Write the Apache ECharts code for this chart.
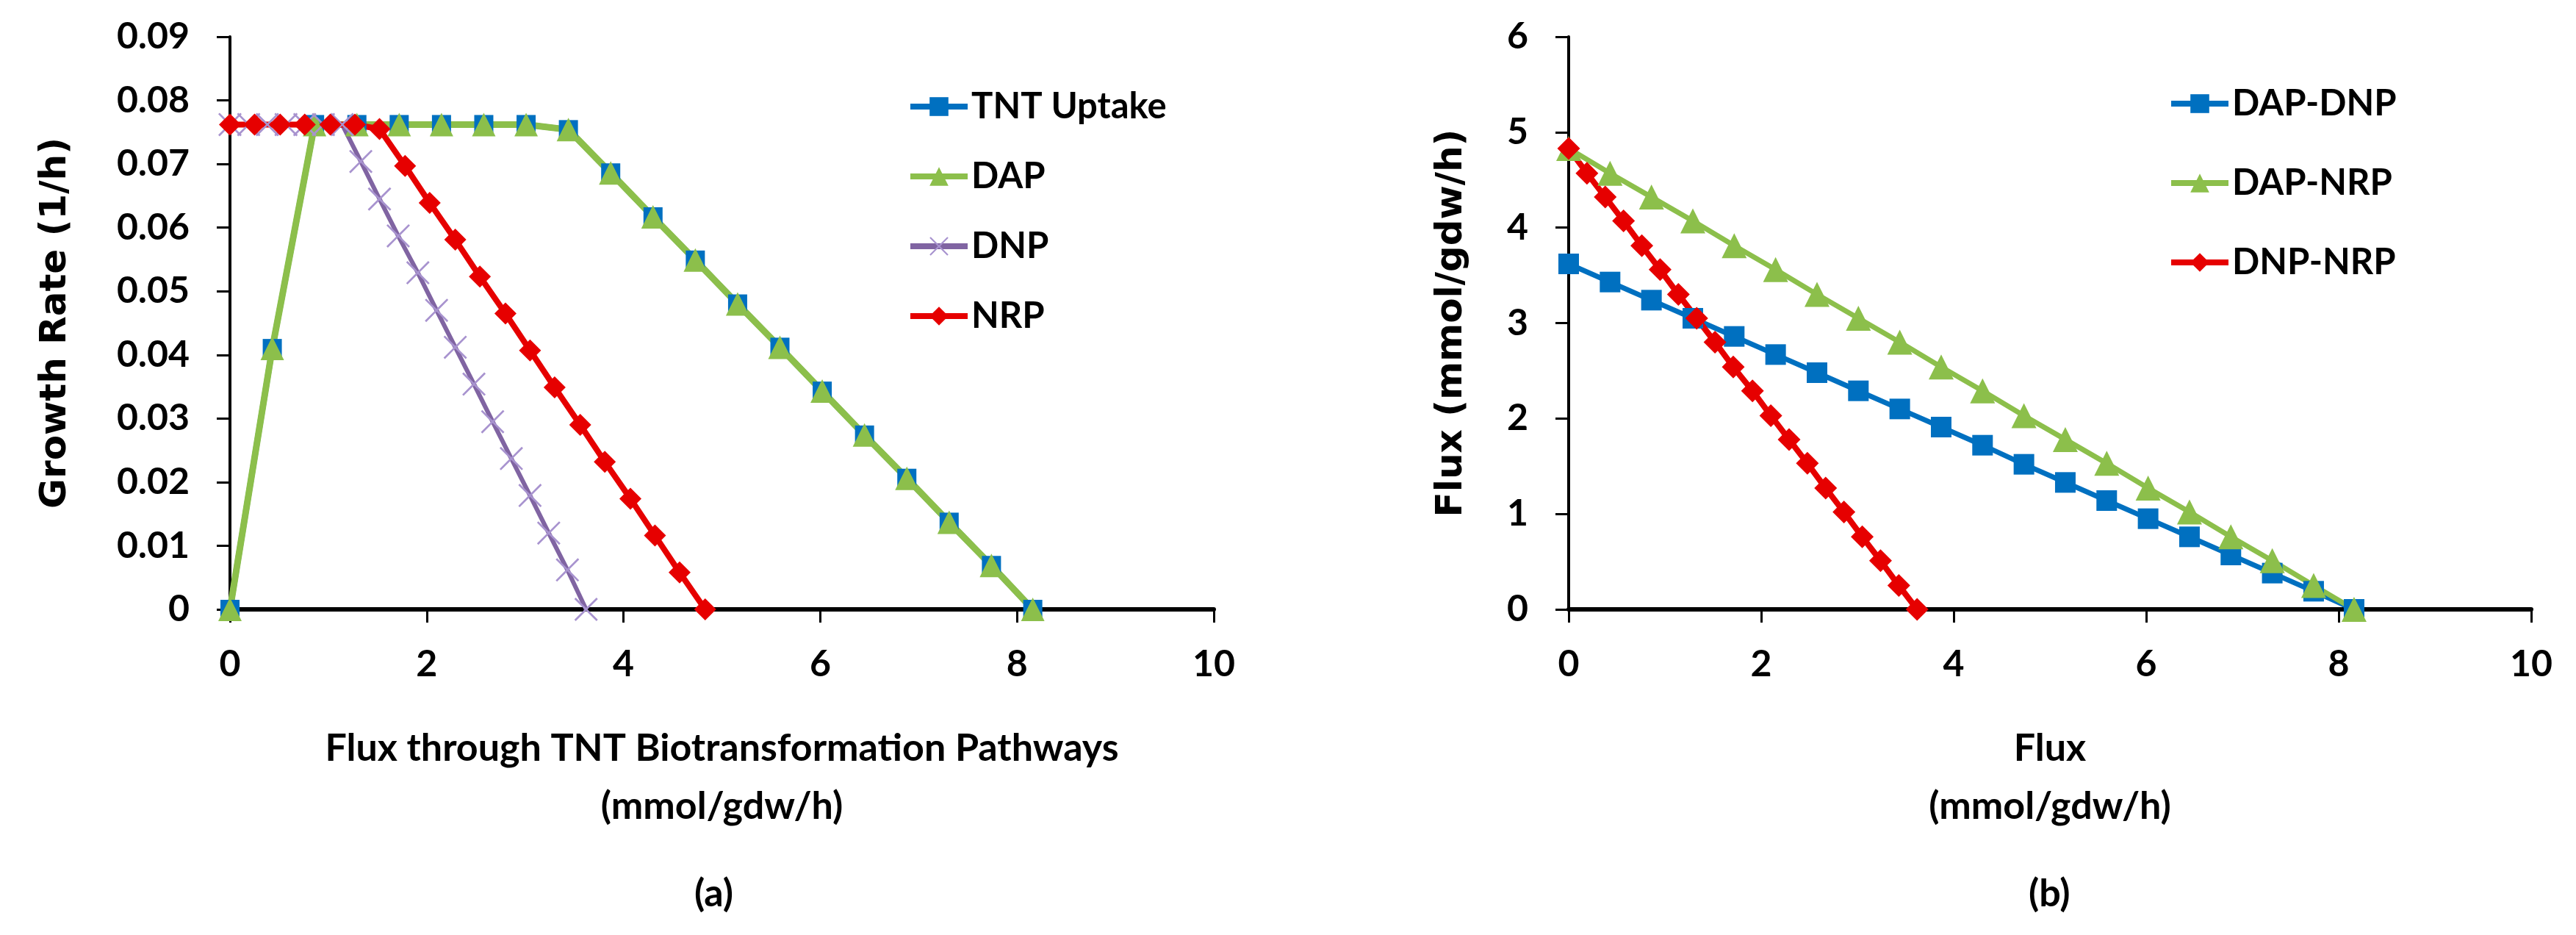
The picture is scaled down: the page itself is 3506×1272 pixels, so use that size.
<!DOCTYPE html>
<html>
<head>
<meta charset="utf-8">
<script src="https://cdn.jsdelivr.net/npm/echarts@6/dist/echarts.min.js"></script>
<style>
  html, body { margin: 0; padding: 0; background: #fff; }
  #chart { width: 3506px; height: 1272px; }
</style>
</head>
<body>
<div id="chart"></div>
<script>
// (a) growth rate vs flux through each pathway
const fluxUptake = [0, 0.43, 0.86, 1.29, 1.72, 2.15, 2.58, 3.01, 3.44, 3.87, 4.30, 4.73, 5.16, 5.59, 6.02, 6.45, 6.88, 7.31, 7.74, 8.16];
const tntUptake = [0, 0.041, 0.0762, 0.0762, 0.0762, 0.0762, 0.0762, 0.0762, 0.0754, 0.0686, 0.0617, 0.0549, 0.048, 0.0412, 0.0343, 0.0274, 0.0206, 0.0137, 0.0069, 0];
const dap = [0, 0.041, 0.0762, 0.0762, 0.0762, 0.0762, 0.0762, 0.0762, 0.0754, 0.0686, 0.0617, 0.0549, 0.048, 0.0412, 0.0343, 0.0274, 0.0206, 0.0137, 0.0069, 0];
const fluxDNP = [0, 0.19, 0.38, 0.57, 0.76, 0.95, 1.14, 1.33, 1.52, 1.71, 1.91, 2.10, 2.29, 2.48, 2.67, 2.86, 3.05, 3.24, 3.43, 3.62];
const dnp = [0.0762, 0.0762, 0.0762, 0.0762, 0.0762, 0.0762, 0.0762, 0.0704, 0.0645, 0.0587, 0.0529, 0.047, 0.0412, 0.0354, 0.0295, 0.0237, 0.0179, 0.012, 0.0062, 0];
const fluxNRP = [0, 0.25, 0.51, 0.76, 1.02, 1.27, 1.52, 1.78, 2.03, 2.29, 2.54, 2.80, 3.05, 3.30, 3.56, 3.81, 4.07, 4.32, 4.57, 4.83];
const nrp = [0.0762, 0.0762, 0.0762, 0.0762, 0.0762, 0.0762, 0.0755, 0.0697, 0.0639, 0.0581, 0.0523, 0.0465, 0.0407, 0.0349, 0.029, 0.0232, 0.0174, 0.0116, 0.0058, 0];

// (b) flux of one pathway vs the other
const fluxB = [0, 0.43, 0.86, 1.29, 1.72, 2.15, 2.58, 3.01, 3.44, 3.87, 4.30, 4.73, 5.16, 5.59, 6.02, 6.45, 6.88, 7.31, 7.74, 8.16];
const dapDnp = [3.62, 3.43, 3.24, 3.05, 2.86, 2.67, 2.48, 2.29, 2.10, 1.91, 1.72, 1.52, 1.33, 1.14, 0.95, 0.76, 0.57, 0.38, 0.19, 0];
const dapNrp = [4.83, 4.57, 4.32, 4.07, 3.81, 3.56, 3.30, 3.05, 2.80, 2.54, 2.29, 2.03, 1.78, 1.53, 1.27, 1.02, 0.76, 0.51, 0.25, 0];
const fluxDnpNrp = [0, 0.19, 0.38, 0.57, 0.76, 0.95, 1.14, 1.33, 1.52, 1.71, 1.91, 2.10, 2.29, 2.48, 2.67, 2.86, 3.05, 3.24, 3.43, 3.62];
const dnpNrp = [4.83, 4.57, 4.32, 4.07, 3.81, 3.56, 3.30, 3.05, 2.80, 2.54, 2.29, 2.03, 1.78, 1.53, 1.27, 1.02, 0.76, 0.51, 0.25, 0];

const BLUE = "#0070c0", GREEN = "#8cbf4b", PURPLE = "#8064a2", RED = "#e60000";
const FONT = "Lato";
const CROSS = "path://M0,0.6L0.6,0L5,4.4L9.4,0L10,0.6L5.6,5L10,9.4L9.4,10L5,5.6L0.6,10L0,9.4L4.4,5Z";

const pairs = (xs, ys) => xs.map((x, i) => [x, ys[i]]);

const lineSeries = (name, grid, data, color, width, symbol, size, extra) =>
  Object.assign(
    {
      name: name,
      type: "line",
      xAxisIndex: grid,
      yAxisIndex: grid,
      data: data,
      symbol: symbol,
      symbolSize: size,
      showSymbol: true,
      lineStyle: { color: color, width: width },
      itemStyle: { color: color },
    },
    extra || {}
  );

const axisLineStyle = (w) => ({ show: true, onZero: false, lineStyle: { color: "#000", width: w } });
const tickStyle = { show: true, inside: false, length: 18, lineStyle: { color: "#000", width: 3 } };
const labelStyle = { fontFamily: FONT, fontWeight: "bold", fontSize: 50, color: "#000" };

const xAxisOf = (grid, name, gap) => ({
  type: "value",
  gridIndex: grid,
  min: 0,
  max: 10,
  interval: 2,
  axisLine: axisLineStyle(6),
  axisTick: tickStyle,
  splitLine: { show: false },
  axisLabel: Object.assign({ margin: 50 }, labelStyle),
  name: name,
  nameLocation: "middle",
  nameGap: gap,
  nameTextStyle: { fontFamily: FONT, fontWeight: "bold", fontSize: 52, color: "#000", lineHeight: 79 },
});

const yAxisOf = (grid, name, max, interval, gap) => ({
  type: "value",
  gridIndex: grid,
  min: 0,
  max: max,
  interval: interval,
  axisLine: axisLineStyle(4),
  axisTick: tickStyle,
  splitLine: { show: false },
  axisLabel: Object.assign({ margin: 55 }, labelStyle),
  name: name,
  nameLocation: "middle",
  nameRotate: 90,
  nameGap: gap,
  nameTextStyle: { fontFamily: "DejaVu Sans", fontWeight: "bold", fontSize: 50, color: "#000" },
});

const legendOf = (names, left, top, gap) => ({
  data: names,
  orient: "vertical",
  left: left,
  top: top,
  itemWidth: 78,
  itemHeight: 32,
  itemGap: gap,
  lineStyle: { width: 8 },
  textStyle: { fontFamily: FONT, fontWeight: "bold", fontSize: 49, color: "#000", lineHeight: 50 },
});

const chart = echarts.init(document.getElementById("chart"));
chart.setOption({
  animation: false,
  backgroundColor: "#fff",
  grid: [
    { left: 313, top: 50, width: 1339, height: 779 },
    { left: 2135, top: 50, width: 1310, height: 779 },
  ],
  xAxis: [
    xAxisOf(0, "Flux through TNT Biotransformation Pathways\n(mmol/gdw/h)", 150),
    xAxisOf(1, "Flux\n(mmol/gdw/h)", 150),
  ],
  yAxis: [
    yAxisOf(0, "Growth Rate (1/h)", 0.09, 0.01, 212),
    yAxisOf(1, "Flux (mmol/gdw/h)", 6, 1, 134),
  ],
  legend: [
    legendOf(["TNT Uptake", "DAP", "DNP", "NRP"], 1230, 115, 45),
    legendOf(["DAP-DNP", "DAP-NRP", "DNP-NRP"], 2946, 111, 58),
  ],
  graphic: [
    { type: "text", left: 975 - 30, top: 1190, style: { text: "(a)", fontFamily: FONT, fontWeight: "bold", fontSize: 52, fill: "#000" } },
    { type: "text", left: 2791 - 30, top: 1190, style: { text: "(b)", fontFamily: FONT, fontWeight: "bold", fontSize: 52, fill: "#000" } },
  ],
  series: [
    lineSeries("TNT Uptake", 0, pairs(fluxUptake, tntUptake), BLUE, 8, "rect", 26),
    lineSeries("DAP", 0, pairs(fluxUptake, dap), GREEN, 9, "triangle", 32),
    lineSeries("DNP", 0, pairs(fluxDNP, dnp), PURPLE, 6, CROSS, 32, { itemStyle: { color: "#a893cf" } }),
    lineSeries("NRP", 0, pairs(fluxNRP, nrp), RED, 8, "diamond", 30),
    lineSeries("DAP-DNP", 1, pairs(fluxB, dapDnp), BLUE, 7, "rect", 28),
    lineSeries("DAP-NRP", 1, pairs(fluxB, dapNrp), GREEN, 7, "triangle", 34),
    lineSeries("DNP-NRP", 1, pairs(fluxDnpNrp, dnpNrp), RED, 8, "diamond", 31),
  ],
});
</script>
</body>
</html>
